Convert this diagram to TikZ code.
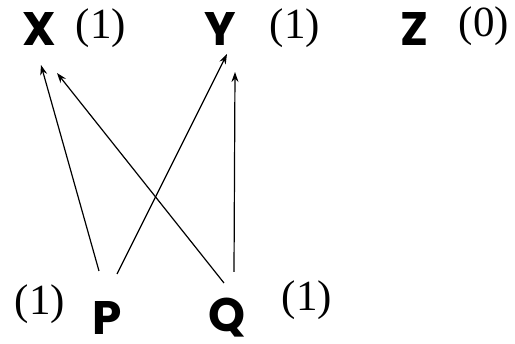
\documentclass[tikz,border=0pt]{standalone}
\usepackage{fontspec}
\setmainfont{Liberation Serif}
\newfontfamily\lett{Poppins}
\usetikzlibrary{arrows.meta}
\tikzset{
  letter/.style={inner sep=0pt, font=\lett\bfseries\fontsize{47}{50}\selectfont},
  count/.style={inner sep=0pt, font=\fontsize{43}{46}\selectfont},
  arr/.style={-{Stealth[length=10pt,width=7pt]}, line width=1.2pt}
}
\begin{document}
\begin{tikzpicture}[x=1pt,y=-1pt]
\useasboundingbox (0,0) rectangle (515,344);
\node[letter] (X) at (39,29) {X};
\node[count] (cX) at (101,28) {(1)};
\node[letter] (Y) at (220,29) {Y};
\node[count] (cY) at (295,28) {(1)};
\node[letter] (Z) at (415,29) {Z};
\node[count] (cZ) at (484,26) {(0)};
\node[letter] (P) at (107,318) {P};
\node[count] (cP) at (40,304) {(1)};
\node[letter] (Q) at (227,318) {Q};
\node[count] (cQ) at (307,300) {(1)};
\draw[arr] ([shift={(-8,-47)}]P.center) -- ([shift={(2,36)}]X.center);
\draw[arr] ([shift={(-3,-35)}]Q.center) -- ([shift={(18,44)}]X.center);
\draw[arr] ([shift={(10,-44)}]P.center) -- ([shift={(7,25)}]Y.center);
\draw[arr] ([shift={(7,-46)}]Q.center) -- ([shift={(15,43)}]Y.center);
\end{tikzpicture}
\end{document}
